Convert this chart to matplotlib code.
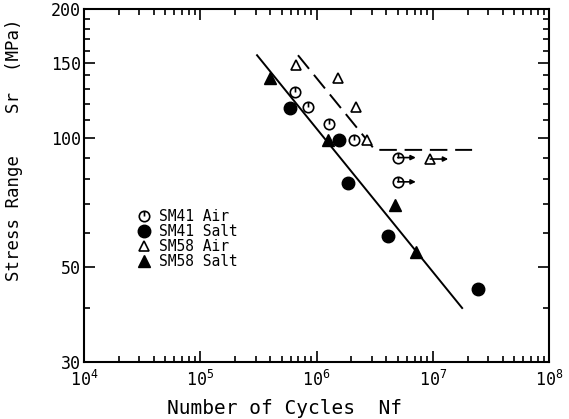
import matplotlib
matplotlib.use("Agg")
import matplotlib.pyplot as plt
from matplotlib.path import Path
from matplotlib.ticker import FixedLocator, NullFormatter, LogLocator
import numpy as np

# Datos de fatiga (ciclos, rango de tension en MPa)
sm41_air_n = [6.5e5, 8.45e5, 1.28e6, 2.1e6]
sm41_air_s = [128, 118, 108, 99]
sm41_air_runout_n = [5.0e6, 5.0e6]
sm41_air_runout_s = [90, 79]

sm41_salt_n = [5.9e5, 1.56e6, 1.87e6, 4.1e6, 2.45e7]
sm41_salt_s = [117.5, 99, 78.5, 59, 44.4]

sm58_air_n = [6.7e5, 1.53e6, 2.19e6, 2.72e6]
sm58_air_s = [148, 138, 118, 99]
sm58_air_runout_n = [9.5e6]
sm58_air_runout_s = [89.3]

sm58_salt_n = [4.0e5, 1.26e6, 4.73e6, 7.2e6]
sm58_salt_s = [138, 99, 69.8, 54.2]

# Curvas S-N
salt_line_n = [3.08e5, 1.79e7]
salt_line_s = [156, 40.1]
air_line_n = [6.93e5, 3.18e6, 2.18e7]
air_line_s = [156, 93.8, 93.8]

y_ticks = [30, 50, 100, 150, 200]
y_minor = [40, 60, 70, 80, 90, 110, 120, 130, 140, 160, 170, 180, 190]

# Marcador circulo con "aguja"
clock = Path.make_compound_path(
    Path.unit_circle(),
    Path([[0, 0], [0, 1]], [Path.MOVETO, Path.LINETO]))

plt.rcParams['font.family'] = 'DejaVu Sans Mono'
fig = plt.figure(figsize=(5.69, 4.19), dpi=100)
ax = fig.add_axes([84/569, 1 - 362/419, 465/569, 353/419])

ax.plot(salt_line_n, salt_line_s, color='black', lw=1.4)
ax.plot(air_line_n, air_line_s, color='black', lw=1.4, dashes=(9, 4))

ax.plot(sm41_air_n, sm41_air_s, ls='none', marker=clock, ms=7.5,
        mfc='white', mec='black', mew=1.2, label='SM41 Air')
ax.plot(sm41_salt_n, sm41_salt_s, ls='none', marker='o', ms=9,
        color='black', label='SM41 Salt')
ax.plot(sm58_air_n, sm58_air_s, ls='none', marker='^', ms=7,
        mfc='white', mec='black', mew=1.2, label='SM58 Air')
ax.plot(sm58_salt_n, sm58_salt_s, ls='none', marker='^', ms=8,
        color='black', label='SM58 Salt')

# Ensayos sin rotura (run-out) con flecha
ax.plot(sm41_air_runout_n, sm41_air_runout_s, ls='none', marker=clock, ms=7.5,
        mfc='white', mec='black', mew=1.2)
ax.plot(sm58_air_runout_n, sm58_air_runout_s, ls='none', marker='^', ms=7,
        mfc='white', mec='black', mew=1.2)
for n, s in zip(sm41_air_runout_n + sm58_air_runout_n,
                sm41_air_runout_s + sm58_air_runout_s):
    ax.annotate('', xy=(n, s), xytext=(13, 0), textcoords='offset points',
                arrowprops=dict(arrowstyle='<|-', color='black', lw=1.2,
                                mutation_scale=7, shrinkA=0, shrinkB=0))

ax.set_xscale('log')
ax.set_yscale('log')
ax.set_xlim(1e4, 1e8)
ax.set_ylim(30, 200)

ax.yaxis.set_major_locator(FixedLocator(y_ticks))
ax.yaxis.set_minor_locator(FixedLocator(y_minor))
ax.set_yticklabels([str(t) for t in y_ticks])
ax.yaxis.set_minor_formatter(NullFormatter())
ax.xaxis.set_major_locator(LogLocator(base=10))
ax.xaxis.set_minor_locator(LogLocator(base=10, subs=np.arange(2, 10)))
ax.xaxis.set_minor_formatter(NullFormatter())

ax.tick_params(which='both', direction='in', top=True, right=True,
               labelsize=12, width=1.2)
ax.tick_params(which='major', length=8)
ax.tick_params(which='minor', length=4)
ax.tick_params(axis='x', which='major', pad=6)
ax.tick_params(axis='y', which='major', pad=2)
for sp in ax.spines.values():
    sp.set_linewidth(1.5)

ax.set_xlabel('Number of Cycles  Nf', fontsize=14)
ax.xaxis.set_label_coords(0.432, -0.105)
ax.set_ylabel('Stress Range    Sr  (MPa)', fontsize=12.5)
ax.yaxis.set_label_coords(-0.132, 0.6)

ax.legend(loc='upper left', bbox_to_anchor=(0.098, 0.455), frameon=False,
          fontsize=10.5, handletextpad=0.5, labelspacing=0.0,
          handlelength=1.0, borderpad=0)

plt.savefig('out.png', dpi=100)
